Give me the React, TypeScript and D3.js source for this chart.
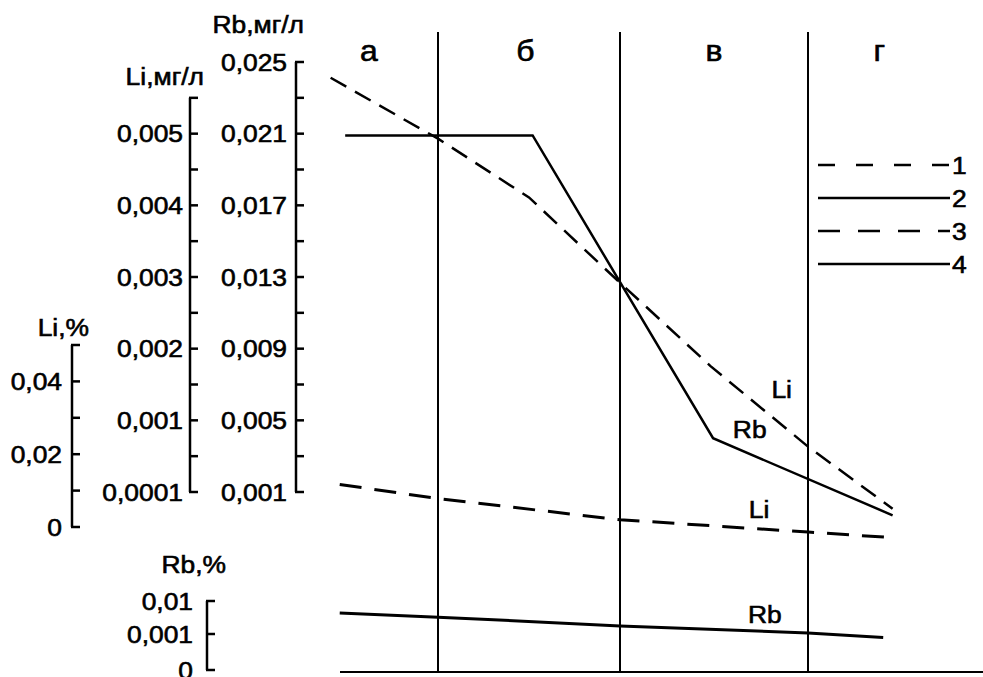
import React, { useEffect, useRef } from "react";
import * as d3 from "d3";

// zones along the profile
const zones = ["а", "б", "в", "г"];
const zoneLabelPos = [0.62, 1.48, 2.5, 3.38];
const zoneBounds = [1, 2, 3];

// axis ticks
const rbMgTicks = [0.001, 0.005, 0.009, 0.013, 0.017, 0.021, 0.025];
const rbMgLabels = ["0,001", "0,005", "0,009", "0,013", "0,017", "0,021", "0,025"];
const rbMgMinor = [0.003, 0.007, 0.011, 0.015, 0.019, 0.023];

const liMgTicks = [0.0001, 0.001, 0.002, 0.003, 0.004, 0.005];
const liMgLabels = ["0,0001", "0,001", "0,002", "0,003", "0,004", "0,005"];
const liMgMinor = [0.00055, 0.0015, 0.0025, 0.0035, 0.0045, 0.0055];

const liPctTicks = [0, 0.02, 0.04];
const liPctLabels = ["0", "0,02", "0,04"];
const liPctMinor = [0.01, 0.03, 0.05];

const rbPctTicks = [0, 0.001, 0.01];
const rbPctLabels = ["0", "0,001", "0,01"];

// series (x = position along profile, zone bounds at 1, 2, 3)
const liMgX = [0.41, 1, 1.5, 2, 2.48, 3, 3.45];
const liMgY = [0.00578, 0.00493, 0.00411, 0.00292, 0.00176, 0.00067, -0.00011];

const rbMgX = [0.49, 1.52, 2.495, 3.45];
const rbMgY = [0.0209, 0.0209, 0.004, -0.0003];

const liPctX = [0.46, 1, 2, 3, 3.41];
const liPctY = [0.0117, 0.0078, 0.002, -0.0014, -0.0028];

const rbPctX = [0.46, 1, 2, 3, 3.4];
const rbPctY = [0.0067, 0.0056, 0.0032, 0.0013, 0.0009];

const legendKeys = ["1", "2", "3", "4"];

const App = () => {
  const svgRef = useRef<SVGSVGElement>(null);

  useEffect(() => {
    const svg = d3.select(svgRef.current);
    svg.selectAll("*").remove();

    const font = "'Liberation Sans', Arial, sans-serif";
    const ink = "#000";

    // slightly wide, heavy text like the scanned figure
    const label = (x: number, y: number, str: string, anchor = "start", size = 24) => {
      svg
        .append("g")
        .attr("transform", `translate(${x},${y}) scale(1.1,1)`)
        .append("text")
        .attr("text-anchor", anchor)
        .attr("font-family", font)
        .attr("font-size", size)
        .attr("fill", ink)
        .attr("stroke", ink)
        .attr("stroke-width", 0.6)
        .text(str);
    };

    // scales
    const x = d3.scaleLinear().domain([0, 1, 2, 3, 4]).range([256, 438, 620, 808, 996]);
    const yRbMg = d3.scaleLinear().domain([0.001, 0.025]).range([492, 62]);
    const yLiMg = d3
      .scaleLinear()
      .domain([0.0001, 0.001, 0.0055])
      .range([yRbMg(0.001), yRbMg(0.005), yRbMg(0.023)]);
    const yLiPct = d3.scaleLinear().domain([0, 0.05]).range([527, 345]);
    const yRbPct = d3.scaleLinear().domain([0, 0.001, 0.01]).range([670, 634, 601]);

    // bracket style axis with ticks pointing right
    const drawAxis = (
      ax: number,
      scale: any,
      top: number,
      bottom: number,
      ticks: number[],
      labels: string[],
      minor: number[],
      gap: number
    ) => {
      const g = svg.append("g").attr("stroke", ink).attr("stroke-width", 2.5);
      g.append("line")
        .attr("x1", ax).attr("x2", ax)
        .attr("y1", scale(top)).attr("y2", scale(bottom));
      [...ticks, ...minor].forEach((t) => {
        g.append("line")
          .attr("x1", ax - 1).attr("x2", ax + 8)
          .attr("y1", scale(t)).attr("y2", scale(t));
      });
      ticks.forEach((t, i) => label(ax - gap, scale(t) + 8.5, labels[i], "end"));
    };

    drawAxis(296, yRbMg, 0.025, 0.001, rbMgTicks, rbMgLabels, rbMgMinor, 9);
    drawAxis(190, yLiMg, 0.0055, 0.0001, liMgTicks, liMgLabels, liMgMinor, 7);
    drawAxis(72, yLiPct, 0.05, 0, liPctTicks, liPctLabels, liPctMinor, 10);
    drawAxis(207, yRbPct, 0.01, 0, rbPctTicks, rbPctLabels, [], 14);

    label(304, 33, "Rb,мг/л", "end");
    label(204, 85, "Li,мг/л", "end");
    label(89, 336, "Li,%", "end");
    label(226, 573, "Rb,%", "end");

    // zone dividers and baseline
    zoneBounds.forEach((b) => {
      svg.append("line")
        .attr("x1", x(b)).attr("x2", x(b))
        .attr("y1", 32).attr("y2", 672)
        .attr("stroke", ink).attr("stroke-width", 2);
    });
    svg.append("line")
      .attr("x1", 340).attr("x2", 983)
      .attr("y1", 672).attr("y2", 672)
      .attr("stroke", ink).attr("stroke-width", 2);

    zones.forEach((z, i) => label(x(zoneLabelPos[i]), 61, z, "middle", 29));

    // series
    const drawSeries = (xs: number[], ys: number[], scale: any, dash: string | null, w: number) => {
      const line = d3
        .line<number>()
        .x((_, i) => x(xs[i]))
        .y((d) => scale(d));
      svg.append("path")
        .attr("d", line(ys))
        .attr("fill", "none")
        .attr("stroke", ink)
        .attr("stroke-width", w)
        .attr("stroke-dasharray", dash);
    };

    drawSeries(liMgX, liMgY, yLiMg, "18,10", 2.5);
    drawSeries(rbMgX, rbMgY, yRbMg, null, 2.5);
    drawSeries(liPctX, liPctY, yLiPct, "22,13", 3);
    drawSeries(rbPctX, rbPctY, yRbPct, null, 3);

    // in-plot labels
    label(x(2.86), yLiMg(0.00134) + 2, "Li", "middle");
    label(x(2.69), yRbMg(0.00412) + 2, "Rb", "middle");
    label(x(2.74), yLiPct(0.0031) + 2, "Li", "middle");
    label(x(2.77), yRbPct(0.00455) + 2, "Rb", "middle");

    // legend
    const legendY = d3.scalePoint().domain(legendKeys).range([165, 264]);
    const legendDash = ["17,21", null, "22,18", null];
    legendKeys.forEach((k, i) => {
      svg.append("line")
        .attr("x1", 818).attr("x2", 950)
        .attr("y1", legendY(k)).attr("y2", legendY(k))
        .attr("stroke", ink).attr("stroke-width", 2.5)
        .attr("stroke-dasharray", legendDash[i]);
      label(952, (legendY(k) as number) + 8.5, k);
    });
  }, []);

  return (
    <svg
      ref={svgRef}
      width={983}
      height={677}
      style={{ position: "absolute", left: 0, top: 0, background: "#fff" }}
    />
  );
};

export default App;
